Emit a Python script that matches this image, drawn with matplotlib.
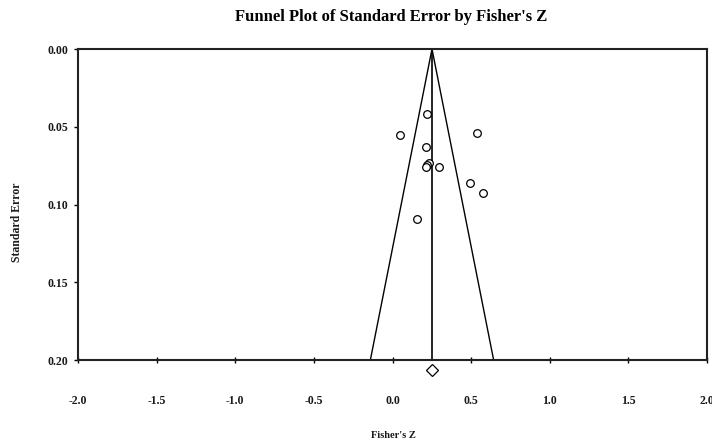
import matplotlib
matplotlib.use('Agg')
import matplotlib.pyplot as plt
import numpy as np

#study values
fisher_z = [0.217, 0.048, 0.535, 0.213, 0.230, 0.220, 0.213, 0.294, 0.493, 0.576, 0.154]
std_err = [0.0418, 0.0553, 0.0542, 0.0628, 0.0731, 0.0745, 0.0761, 0.0759, 0.0864, 0.0928, 0.1095]

#summary effect and the diamond below the axis
mean_z = 0.251
diamond_se = 0.2064
max_se = 0.20

xticks = [-2.0, -1.5, -1.0, -0.5, 0.0, 0.5, 1.0, 1.5, 2.0]
yticks = [0.00, 0.05, 0.10, 0.15, 0.20]

plt.rcParams['font.family'] = ['Liberation Serif', 'DejaVu Serif']
plt.rcParams['font.weight'] = 'bold'

fig = plt.figure(figsize=(7.12, 4.40), dpi=100)
ax = fig.add_axes([0.1096, 0.1818, 0.8834, 0.7068])

#funnel lines (95% limits)
se_line = np.array([0.0, max_se])
ax.plot(mean_z - 1.96 * se_line, se_line, color='black', lw=1.0)
ax.plot(mean_z + 1.96 * se_line, se_line, color='black', lw=1.0)
ax.plot([mean_z, mean_z], [0.0, max_se], color='black', lw=1.2)

#studies
ax.plot(fisher_z, std_err, linestyle='none', marker='o', ms=5.5,
        markerfacecolor='white', markeredgecolor='black', markeredgewidth=0.9)

#summary diamond
ax.plot([mean_z], [diamond_se], linestyle='none', marker='D', ms=6.5,
        markerfacecolor='white', markeredgecolor='black', markeredgewidth=0.9,
        clip_on=False)

ax.set_xlim(-2.0, 2.0)
ax.set_ylim(max_se, 0.0)
ax.set_xticks(xticks)
ax.set_yticks(yticks)
ax.set_xticklabels(['%.1f' % t for t in xticks])
ax.set_yticklabels(['%.2f' % t for t in yticks])

for s in ax.spines.values():
    s.set_linewidth(1.5)
    s.set_color('#222222')

ax.tick_params(axis='x', direction='inout', length=5, width=1.0, pad=23,
               labelsize=8.5, labelcolor='#1a1a1a')
ax.tick_params(axis='y', direction='out', length=3, width=1.0, pad=4,
               labelsize=8.5, labelcolor='#1a1a1a')

fig.text(0.549, 0.961, "Funnel Plot of Standard Error by Fisher's Z",
         ha='center', va='center', fontsize=12, fontweight='bold')
fig.text(0.552, 0.011, "Fisher's Z", ha='center', va='center',
         fontsize=7.5, fontweight='bold', color='#1a1a1a')
fig.text(0.024, 0.495, 'Standard Error', ha='center', va='center',
         rotation=90, fontsize=8.5, fontweight='bold', color='#1a1a1a')

fig.savefig('out.png', dpi=100)
